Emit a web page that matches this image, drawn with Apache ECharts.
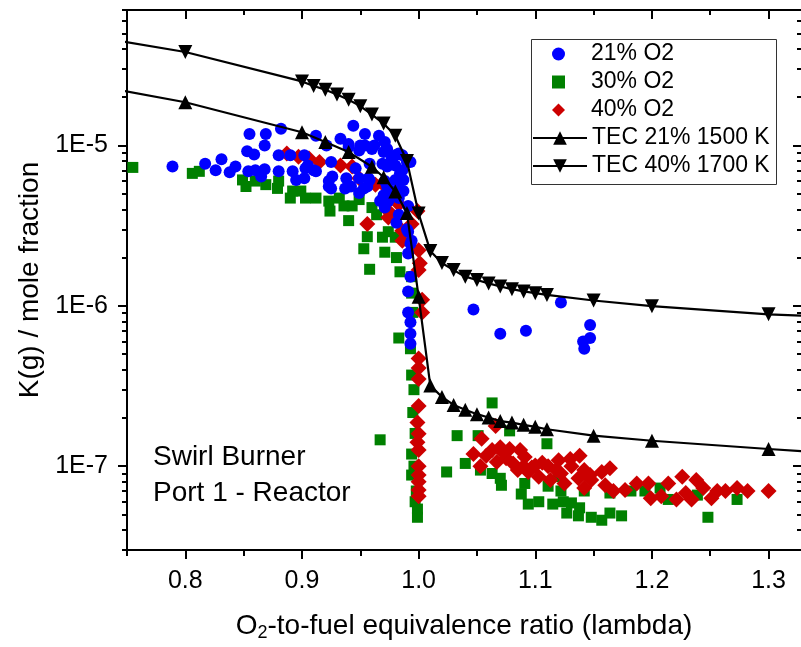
<!DOCTYPE html>
<html>
<head>
<meta charset="utf-8">
<script src="https://cdn.jsdelivr.net/npm/echarts@6/dist/echarts.min.js"></script>
<style>html,body{margin:0;padding:0;background:#fff}#c{width:801px;height:647px}</style>
</head>
<body>
<div id="c"></div>
<script>
// ---------- tick definitions ----------
const xTickValues = [0.8, 0.9, 1.0, 1.1, 1.2, 1.3];
const xTickLabels = ['0.8', '0.9', '1.0', '1.1', '1.2', '1.3'];
const xMinorTicks = [0.75, 0.85, 0.95, 1.05, 1.15, 1.25];
const yTickValues = [1e-7, 1e-6, 1e-5];
const yTickLabels = ['1E-7', '1E-6', '1E-5'];
const yMinorTicks = [3e-8, 4e-8, 5e-8, 6e-8, 7e-8, 8e-8, 9e-8,
  2e-7, 3e-7, 4e-7, 5e-7, 6e-7, 7e-7, 8e-7, 9e-7,
  2e-6, 3e-6, 4e-6, 5e-6, 6e-6, 7e-6, 8e-6, 9e-6,
  2e-5, 3e-5, 4e-5, 5e-5, 6e-5, 7e-5];

// ---------- series names ----------
const seriesNames = ['21% O2', '30% O2', '40% O2', 'TEC 21% 1500 K', 'TEC 40% 1700 K'];

// ---------- 21% O2 (measured) ----------
const o2_21 = [
  [0.789,7.4e-6],[0.817,7.7e-6],[0.826,7.0e-6],[0.831,8.2e-6],[0.838,6.8e-6],[0.843,7.4e-6],
  [0.855,1.18e-5],[0.853,9.2e-6],[0.859,8.8e-6],[0.854,6.9e-6],[0.860,7.0e-6],[0.869,1.18e-5],
  [0.868,1.0e-5],[0.868,7.1e-6],[0.865,6.4e-6],[0.882,1.27e-5],[0.880,8.7e-6],[0.880,6.9e-6],
  [0.890,8.7e-6],[0.892,6.9e-6],[0.895,6.1e-6],[0.902,8.7e-6],[0.905,7.5e-6],[0.912,6.9e-6],
  [0.902,6.25e-6],[0.912,1.15e-5],[0.921,1.0e-5],[0.923,6.0e-6],[0.925,5.4e-6],[0.933,1.1e-5],
  [0.940,9.8e-6],[0.944,1.33e-5],[0.954,1.18e-5],[0.954,1.0e-5],[0.949,9.3e-6],[0.960,9.5e-6],
  [0.966,1.15e-5],[0.971,1.05e-5],[0.938,6.25e-6],[0.942,5.55e-6],[0.946,7.2e-6],[0.953,5.4e-6],
  [0.958,6.1e-6],[0.969,7.7e-6],[0.973,7.4e-6],[0.980,8.7e-6],[0.986,8.7e-6],[0.993,7.9e-6],
  [0.980,7.5e-6],[0.984,6.7e-6],[0.987,6.1e-6],[0.970,4.9e-6],[0.974,4.5e-6],[0.980,5.2e-6],
  [0.987,5.2e-6],[0.971,4.1e-6],[0.983,3.7e-6],[0.991,4.2e-6],[0.993,1.52e-6],[0.991,1.23e-6],
  [0.991,9.1e-7],[0.993,7.9e-7],[0.993,6.7e-7],[0.993,5.8e-7],[0.970,9.1e-6],[0.977,8.3e-6],
  [0.990,7.9e-6],[0.986,7.0e-6],[0.980,6.1e-6],[0.971,6.0e-6],[0.974,4.9e-6],[0.983,5.4e-6],
  [0.967,4.5e-6],[0.983,4.7e-6],[0.981,3.3e-6],[0.991,2.9e-6],[0.993,2.44e-6],[0.991,2.12e-6],
  [0.990,3.0e-6],[0.994,2.55e-6],[1.047,9.5e-7],[1.070,6.7e-7],[1.092,7.0e-7],[1.122,1.05e-6],
  [1.147,7.6e-7],[1.147,6.3e-7],[1.141,6.0e-7],[1.142,5.4e-7],[0.950,1.0e-5],[0.962,1.0e-5],
  [0.973,9.5e-6],[0.983,8.9e-6],[0.925,7.9e-6],[0.903,7.2e-6],[0.910,7.0e-6],[0.926,6.4e-6],
  [0.949,6.25e-6],[0.957,6.25e-6],[0.958,7.7e-6],[0.923,5.55e-6],[0.937,5.4e-6],[0.949,5.05e-6],
  [0.956,5.55e-6],[0.973,5.55e-6],[0.970,4.8e-6],[0.940,1.02e-5]
];

// ---------- 30% O2 (measured) ----------
const o2_30 = [
  [0.755,7.3e-6],[0.806,6.7e-6],[0.812,6.9e-6],[0.849,6.1e-6],[0.852,5.55e-6],[0.860,6.0e-6],
  [0.869,5.7e-6],[0.879,5.4e-6],[0.880,6.0e-6],[0.892,5.2e-6],[0.890,4.7e-6],[0.899,5.2e-6],
  [0.903,4.7e-6],[0.912,4.7e-6],[0.923,4.5e-6],[0.924,3.9e-6],[0.932,4.7e-6],[0.936,4.2e-6],
  [0.943,4.2e-6],[0.949,4.6e-6],[0.940,3.4e-6],[0.956,2.7e-6],[0.953,2.27e-6],[0.958,1.69e-6],
  [0.960,4.1e-6],[0.964,3.7e-6],[0.969,2.68e-6],[0.971,2.16e-6],[0.981,2.0e-6],[0.984,1.63e-6],
  [0.980,2.68e-6],[0.974,2.9e-6],[0.994,1.52e-6],[0.994,1.2e-6],[0.995,9.1e-7],[0.983,6.3e-7],
  [0.993,5.4e-7],[0.994,3.7e-7],[0.996,3.0e-7],[0.995,2.16e-7],[0.997,1.6e-7],[0.994,1.19e-7],
  [0.996,1.0e-7],[0.994,8.8e-8],[0.998,7.0e-8],[0.997,6.0e-8],[0.999,5.4e-8],[0.999,4.8e-8],
  [0.967,1.46e-7],[1.024,9.2e-8],[1.033,1.55e-7],[1.063,2.48e-7],[1.051,1.55e-7],[1.078,1.66e-7],
  [1.110,1.38e-7],[1.040,1.04e-7],[1.053,9.45e-8],[1.063,9.0e-8],[1.070,8.4e-8],[1.071,7.6e-8],
  [1.091,7.8e-8],[1.088,6.7e-8],[1.094,5.8e-8],[1.103,6.0e-8],[1.115,5.8e-8],[1.111,7.5e-8],
  [1.122,7.0e-8],[1.124,6.0e-8],[1.127,5.1e-8],[1.131,5.9e-8],[1.138,5.5e-8],[1.137,4.9e-8],
  [1.148,4.8e-8],[1.157,4.6e-8],[1.164,5.1e-8],[1.174,4.9e-8],[1.142,7.0e-8],[1.164,6.8e-8],
  [1.182,7.0e-8],[1.194,7.0e-8],[1.207,7.3e-8],[1.214,6.2e-8],[1.239,6.6e-8],[1.248,4.8e-8],
  [1.273,6.2e-8],[1.120,8.6e-8]
];

// ---------- 40% O2 (measured) ----------
const o2_40 = [
  [0.887,8.9e-6],[0.897,8.5e-6],[0.906,8.3e-6],[0.915,7.9e-6],[0.933,7.5e-6],[0.943,7.4e-6],
  [0.949,6.25e-6],[0.963,5.7e-6],[0.956,3.24e-6],[0.974,3.9e-6],[0.983,4.3e-6],[0.986,2.94e-6],
  [0.994,3.24e-6],[1.000,2.22e-6],[1.001,1.84e-6],[1.000,1.67e-6],[1.003,1.09e-6],[1.003,9.1e-7],
  [0.969,5.8e-6],[0.999,3.9e-6],[1.000,4.7e-7],[1.000,4.1e-7],[1.000,3.5e-7],[1.000,2.37e-7],
  [0.999,1.87e-7],[1.000,1.59e-7],[0.999,1.41e-7],[1.000,1.26e-7],[1.000,1.0e-7],[1.000,8.8e-8],
  [1.000,8.0e-8],[1.000,7.1e-8],[1.000,6.5e-8],[0.974,3.55e-6],[0.986,2.55e-6],
  [1.066,1.78e-7],[1.054,1.48e-7],[1.047,1.19e-7],[1.053,1.0e-7],[1.063,1.26e-7],[1.070,1.31e-7],
  [1.078,1.28e-7],[1.087,1.26e-7],[1.067,1.06e-7],[1.081,1.04e-7],[1.091,1.14e-7],[1.085,9.45e-8],
  [1.094,9.2e-8],[1.103,8.6e-8],[1.111,1.0e-7],[1.120,1.09e-7],[1.113,8.2e-8],[1.122,9.0e-8],
  [1.130,1.11e-7],[1.138,1.16e-7],[1.125,7.8e-8],[1.137,8.4e-8],[1.142,7.3e-8],[1.147,8.8e-8],
  [1.157,9.2e-8],[1.164,9.7e-8],[1.160,7.6e-8],[1.167,7.0e-8],[1.177,7.1e-8],[1.187,7.8e-8],
  [1.197,7.8e-8],[1.199,6.3e-8],[1.208,6.5e-8],[1.214,7.8e-8],[1.221,6.2e-8],[1.226,8.6e-8],
  [1.229,6.8e-8],[1.234,6.2e-8],[1.238,8.2e-8],[1.244,7.3e-8],[1.251,6.3e-8],[1.256,7.0e-8],
  [1.263,7.0e-8],[1.273,7.3e-8],[1.282,7.0e-8],[1.300,7.0e-8],[1.131,1.0e-7],[1.142,9.45e-8],
  [1.148,8.2e-8],[1.100,1.01e-7],[1.118,9.45e-8],[1.058,1.16e-7],[1.075,1.12e-7],[1.097,9.8e-8],
  [1.106,1.05e-7],[1.072,1.22e-7],[1.090,1.0e-7]
];

// ---------- TEC model curves ----------
const tec21_lambda = [0.7, 0.8, 0.9, 0.92, 0.94, 0.96, 0.97, 0.98, 0.99, 1.0, 1.01, 1.02, 1.03, 1.04,
  1.05, 1.06, 1.07, 1.08, 1.09, 1.1, 1.11, 1.15, 1.2, 1.3, 1.4];
const tec21_k = [2.54e-5, 1.86e-5, 1.21e-5, 1.05e-5, 9.1e-6, 7.37e-6, 6.34e-6, 5.16e-6, 3.79e-6, 1.14e-6,
  3.19e-7, 2.70e-7, 2.41e-7, 2.25e-7, 2.11e-7, 2.01e-7, 1.91e-7, 1.87e-7, 1.81e-7, 1.76e-7, 1.70e-7,
  1.55e-7, 1.44e-7, 1.28e-7, 1.15e-7];
const tec40_lambda = [0.7, 0.8, 0.9, 0.91, 0.92, 0.93, 0.94, 0.95, 0.96, 0.97, 0.98, 0.99, 1.0, 1.01,
  1.02, 1.03, 1.04, 1.05, 1.06, 1.07, 1.08, 1.09, 1.1, 1.11, 1.15, 1.2, 1.3, 1.4];
const tec40_k = [5.08e-5, 3.83e-5, 2.51e-5, 2.35e-5, 2.23e-5, 2.08e-5, 1.93e-5, 1.76e-5, 1.56e-5, 1.37e-5,
  1.15e-5, 8.0e-6, 3.76e-6, 2.2e-6, 1.85e-6, 1.67e-6, 1.52e-6, 1.45e-6, 1.38e-6, 1.32e-6, 1.27e-6,
  1.23e-6, 1.20e-6, 1.17e-6, 1.08e-6, 9.95e-7, 8.85e-7, 8.3e-7];

const FONT = 'Liberation Sans';
const X_MIN = 0.75, X_MAX = 1.3278, Y_MIN = 3e-8, Y_MAX = 7e-5;

const chart = echarts.init(document.getElementById('c'), null, {renderer: 'canvas'});

function xAx(pos, values, len, inside, showLine, showLabel, name) {
  const a = {
    type: 'value', position: pos, min: X_MIN, max: X_MAX,
    splitLine: {show: false},
    axisLine: {show: showLine, onZero: false, lineStyle: {color: '#000', width: 2}},
    axisTick: {show: true, inside: inside, length: len, customValues: values, lineStyle: {color: '#000', width: 2}},
    axisLabel: {show: showLabel, customValues: values, margin: 19, fontSize: 25, fontFamily: FONT, color: '#000',
      formatter: v => { const i = xTickValues.findIndex(t => Math.abs(t - v) < 1e-6); return i >= 0 ? xTickLabels[i] : ''; }}
  };
  if (name) {
    a.name = name; a.nameLocation = 'middle'; a.nameGap = 60;
    a.nameTextStyle = {fontSize: 28, fontFamily: FONT, color: '#000',
      rich: {s: {fontSize: 18, fontFamily: FONT, color: '#000', padding: [14, 0, 0, 0]}}};
  }
  return a;
}
function yAx(pos, values, len, inside, showLine, showLabel, name) {
  const a = {
    type: 'log', logBase: 10, position: pos, min: Y_MIN, max: Y_MAX,
    splitLine: {show: false},
    axisLine: {show: showLine, onZero: false, lineStyle: {color: '#000', width: 2}},
    axisTick: {show: true, inside: inside, length: len, customValues: values, lineStyle: {color: '#000', width: 2}},
    axisLabel: {show: showLabel, customValues: values, margin: 19, fontSize: 25, fontFamily: FONT, color: '#000',
      formatter: v => { const i = yTickValues.findIndex(t => Math.abs(Math.log10(t) - Math.log10(v)) < 1e-6); return i >= 0 ? yTickLabels[i] : ''; }}
  };
  if (name) {
    a.name = name; a.nameLocation = 'middle'; a.nameGap = 80;
    a.nameTextStyle = {fontSize: 28, fontFamily: FONT, color: '#000'};
  }
  return a;
}

const legendText = {fontSize: 23, fontFamily: FONT, color: '#000', lineHeight: 24};

const option = {
  animation: false,
  backgroundColor: '#fff',
  grid: {left: 127, right: -2, top: 10, bottom: 90, containLabel: false},
  xAxis: [
    xAx('bottom', xTickValues, 9, false, true, true, 'O{s|2}-to-fuel equivalence ratio (lambda)'),
    xAx('bottom', xMinorTicks, 6, false, false, false),
    xAx('top', xTickValues, 9, true, true, false),
    xAx('top', xMinorTicks, 5, true, false, false)
  ],
  yAxis: [
    yAx('left', yTickValues, 9, false, true, true, 'K(g) / mole fraction'),
    yAx('left', yMinorTicks, 5, false, false, false),
    yAx('right', yTickValues, 8, true, false, false),
    yAx('right', yMinorTicks, 4, true, false, false)
  ],
  legend: [
    {data: [seriesNames[0], seriesNames[1], seriesNames[2]], orient: 'vertical', left: 552, top: 42,
      itemWidth: 13, itemHeight: 13, itemGap: 4, padding: 0, selectedMode: false,
      textStyle: Object.assign({padding: [0, 0, 0, 21]}, legendText)},
    {data: [seriesNames[3], seriesNames[4]], orient: 'vertical', left: 532, top: 126,
      itemWidth: 54, itemHeight: 17, itemGap: 4, padding: 0, selectedMode: false,
      textStyle: legendText}
  ],
  graphic: [
    {type: 'rect', left: 529, top: 37, z: 100, silent: true,
      shape: {width: 245, height: 145}, style: {fill: 'none', stroke: '#333', lineWidth: 1}},
    {type: 'text', left: 153, top: 439, z: 100, silent: true,
      style: {text: 'Swirl Burner\nPort 1 - Reactor', fontSize: 28, fontFamily: FONT, fill: '#000', lineHeight: 36}}
  ],
  series: [
    {name: seriesNames[1], type: 'scatter', data: o2_30, symbol: 'rect', symbolSize: 11,
      itemStyle: {color: '#008000', opacity: 1}, z: 2},
    {name: seriesNames[2], type: 'scatter', data: o2_40, symbol: 'diamond', symbolSize: 16,
      itemStyle: {color: '#cc0000', opacity: 1}, z: 3},
    {name: seriesNames[0], type: 'scatter', data: o2_21, symbol: 'circle', symbolSize: 12,
      itemStyle: {color: '#0000ff', opacity: 1}, z: 4},
    {name: seriesNames[3], type: 'line', data: tec21_lambda.map((x, i) => [x, tec21_k[i]]),
      symbol: 'triangle', symbolSize: 14, showAllSymbol: true, clip: true,
      lineStyle: {color: '#000', width: 2.2}, itemStyle: {color: '#000', opacity: 1}, z: 5},
    {name: seriesNames[4], type: 'line', data: tec40_lambda.map((x, i) => [x, tec40_k[i]]),
      symbol: 'triangle', symbolRotate: 180, symbolSize: 14, showAllSymbol: true, clip: true,
      lineStyle: {color: '#000', width: 2.2}, itemStyle: {color: '#000', opacity: 1}, z: 5}
  ]
};
chart.setOption(option);
</script>
</body>
</html>
